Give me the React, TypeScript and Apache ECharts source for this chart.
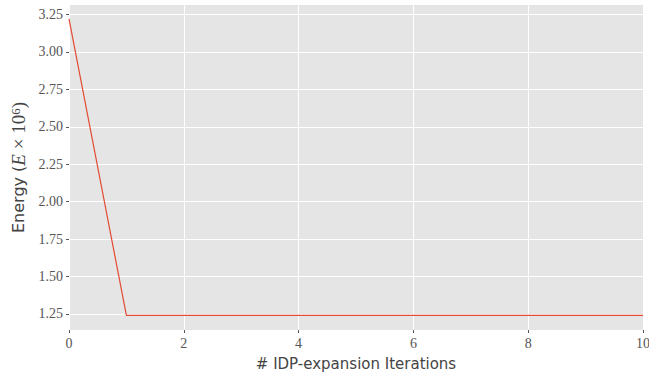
import React, { useEffect, useRef } from "react";
import * as echarts from "echarts";

const iterations = [0, 1, 2, 3, 4, 5, 6, 7, 8, 9, 10];
const energy = [3.22, 1.241, 1.241, 1.241, 1.241, 1.241, 1.241, 1.241, 1.241, 1.241, 1.241];
const yTicks = [1.25, 1.5, 1.75, 2.0, 2.25, 2.5, 2.75, 3.0, 3.25];

export default function App() {
  const ref = useRef<HTMLDivElement>(null);
  useEffect(() => {
    if (!ref.current) return;
    const chart = echarts.init(ref.current, undefined, { renderer: "svg" });
    const serif = "'Liberation Serif', 'DejaVu Serif', serif";
    const sans = "'DejaVu Sans', sans-serif";
    chart.setOption({
      animation: false,
      backgroundColor: "#ffffff",
      grid: {
        left: 69,
        right: 6,
        top: 5,
        bottom: 46,
        backgroundColor: "#E5E5E5",
        show: true,
        borderWidth: 0,
        containLabel: false,
        outerBoundsMode: "none",
      },
      xAxis: {
        type: "value",
        min: 0,
        max: 10,
        interval: 2,
        axisLine: { show: false },
        axisTick: { show: true, length: 3, lineStyle: { color: "#555", width: 1 } },
        axisLabel: { color: "#555", fontFamily: serif, fontSize: 14, margin: 6 },
        splitLine: { show: true, lineStyle: { color: "#ffffff", width: 1 } },
        name: "# IDP-expansion Iterations",
        nameLocation: "middle",
        nameGap: 26,
        nameTextStyle: { color: "#444", fontFamily: sans, fontSize: 15 },
      },
      yAxis: {
        type: "value",
        min: 1.143,
        max: 3.313,
        axisLine: { show: false },
        axisTick: {
          show: true,
          length: 3,
          customValues: yTicks,
          lineStyle: { color: "#555", width: 1 },
        },
        axisLabel: {
          show: true,
          customValues: yTicks,
          color: "#555",
          fontFamily: serif,
          fontSize: 14,
          margin: 6,
          formatter: (v: number) => v.toFixed(2),
        },
        splitLine: { show: false },
        name: "{s|Energy (}{i|E}{m| × 10}{sup|6}{m|)}",
        nameLocation: "middle",
        nameGap: 40,
        nameRotate: 90,
        nameTextStyle: {
          color: "#444",
          fontSize: 16,
          rich: {
            s: { fontFamily: sans, fontSize: 16, color: "#444" },
            i: { fontFamily: serif, fontStyle: "italic", fontSize: 19, color: "#444" },
            m: { fontFamily: serif, fontSize: 19, color: "#444" },
            sup: { fontFamily: serif, fontSize: 13, color: "#444", verticalAlign: "top", padding: [0, 0, 6, 0] },
          },
        },
      },
      series: [
        {
          type: "line",
          data: [],
          markLine: {
            silent: true,
            symbol: "none",
            label: { show: false },
            lineStyle: { color: "#ffffff", width: 1, type: "solid" },
            data: yTicks.map((v) => ({ yAxis: v })),
          },
          z: 1,
        },
        {
          type: "line",
          data: iterations.map((x, i) => [x, energy[i]]),
          showSymbol: false,
          lineStyle: { color: "#E24A33", width: 1.2 },
          silent: true,
          z: 5,
        },
      ],
    });
    return () => chart.dispose();
  }, []);
  return <div ref={ref} style={{ position: "absolute", left: 0, top: 0, width: 649, height: 376 }} />;
}
